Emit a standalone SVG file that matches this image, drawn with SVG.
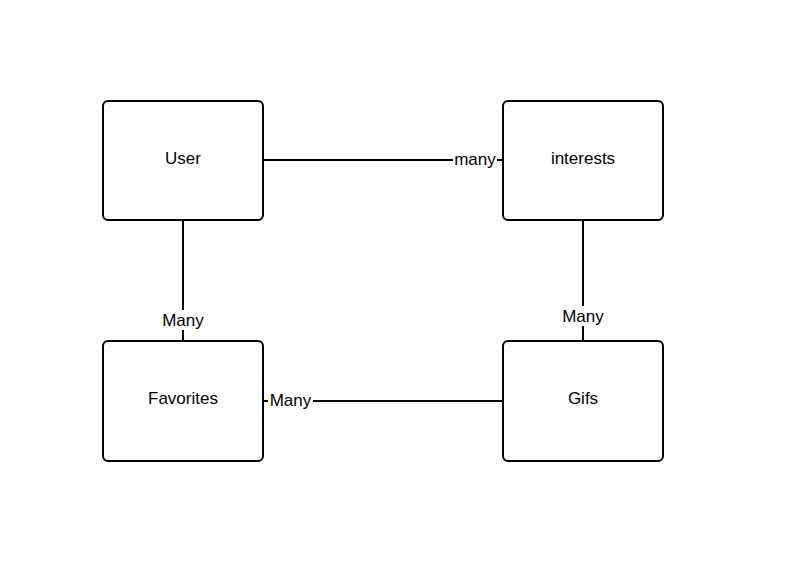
<svg xmlns="http://www.w3.org/2000/svg" width="802" height="576" viewBox="0 0 802 576">
<style>
.box{fill:#fff;stroke:#000;stroke-width:2}
.ln{stroke:#000;stroke-width:2;fill:none}
.t{font-family:"Liberation Sans",Arial,sans-serif;font-size:17px;fill:#000;text-anchor:middle}
.lb{font-family:"Liberation Sans",Arial,sans-serif;font-size:17px;fill:#000;text-anchor:middle}
.bg{fill:#fff}
</style>
<rect width="802" height="576" fill="#fff"/>
<g id="connectors">
<line class="ln" x1="263" y1="160" x2="503" y2="160"/>
<rect class="bg" x="453" y="150" width="44" height="20"/>
<text class="lb" x="475" y="165">many</text>
<line class="ln" x1="183" y1="220" x2="183" y2="341"/>
<rect class="bg" x="160" y="310" width="46" height="20"/>
<text class="lb" x="183" y="326">Many</text>
<line class="ln" x1="583" y1="220" x2="583" y2="341"/>
<rect class="bg" x="560" y="306" width="46" height="20"/>
<text class="lb" x="583" y="322">Many</text>
<line class="ln" x1="263" y1="401" x2="503" y2="401"/>
<rect class="bg" x="268" y="391" width="45" height="20"/>
<text class="lb" x="290.5" y="406">Many</text>
</g>
<g id="user"><rect class="box" x="103" y="101" width="160" height="119" rx="5"/><text class="t" x="183" y="164">User</text></g>
<g id="interests"><rect class="box" x="503" y="101" width="160" height="119" rx="5"/><text class="t" x="583" y="164">interests</text></g>
<g id="favorites"><rect class="box" x="103" y="341" width="160" height="120" rx="5"/><text class="t" x="183" y="404">Favorites</text></g>
<g id="gifs"><rect class="box" x="503" y="341" width="160" height="120" rx="5"/><text class="t" x="583" y="404">Gifs</text></g>
</svg>
